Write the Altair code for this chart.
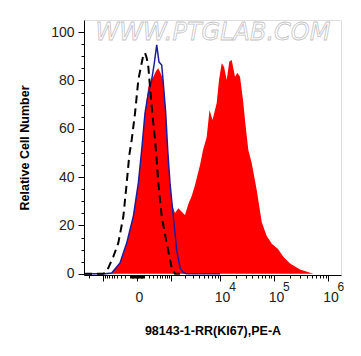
import altair as alt
import pandas as pd

# ---- data (x in PE-A units, y in relative cell number) ----
red_x = [-2600, -889, -593, -443, -326, -243, -169, -107, -53, -13, 18, 42, 68, 98, 125,
         190, 239, 308, 382, 453, 527, 632, 733, 825, 940, 1051, 1235, 1466, 1739, 2046,
         2398, 2816, 3283, 4128, 4726, 5577, 6316, 7209, 8668, 9582, 10776, 11906, 13382,
         14969, 16598, 19124, 21108, 23690, 26929, 29958, 33757, 39012, 48240, 59650,
         73740, 92240, 118990, 148880, 197550, 301450, 528900, 1070000]
red_y = [0, 0, 0.3, 2.5, 4.5, 8.6, 12.7, 18.2, 23.6, 31.2, 37.6, 44.4, 51.2, 59.5, 66.5,
         77.4, 79.2, 81.5, 83.9, 85.0, 83.1, 80.2, 66.4, 51.2, 37.6, 28.5, 25.2, 27.1, 25.7,
         24.3, 28.9, 32.2, 36.7, 45.0, 51.2, 56.6, 67.8, 63.6, 70.7, 80.2, 87.1, 85.7, 80.2,
         87.8, 88.5, 81.5, 83.2, 81.5, 71.9, 61.6, 51.2, 45.8, 34.7, 21.4, 15.6, 12.3, 10.3,
         7.1, 4.3, 1.8, 0, 0]

blue_x = [-2600, -1171, -889, -593, -443, -326, -243, -169, -107, -53, -13, 18, 42, 68, 98,
          125, 184, 227, 267, 334, 403, 476, 571, 632, 733, 825, 940, 1128, 1349, 1598, 1883,
          2221, 4128, 10000]
blue_y = [0, 0, 0, 0.3, 2.5, 4.5, 8.6, 12.7, 18.2, 23.6, 31.2, 37.6, 44.4, 51.2, 59.5,
          66.5, 74.0, 77.4, 80.2, 87.1, 94.7, 87.6, 86.4, 78.8, 66.5, 51.2, 37.6, 23.6, 9.8,
          2.4, 0.5, 0, 0, 0]

dash_x = [-2600, -995, -806, -661, -534, -374, -243, -169, -119, -78, -27, 18, 57, 95, 125,
          157, 190, 227, 282, 354, 403, 453, 571, 778, 1034, 1235, 1598]
dash_y = [0, 0, 0.9, 4.0, 7.1, 12.7, 23.6, 37.6, 49.2, 55.4, 66.5, 80.2, 85.8, 90.5, 91.4,
          89.3, 85.7, 77.4, 66.5, 55.4, 47.1, 37.6, 23.6, 12.7, 2.4, 0, 0]

# axis ticks / labels
x_major = [-1000, 0, 1000, 10000, 100000, 1000000]
x_minor = [-2000, -900, -800, -700, -600, -500, -400, -300, -200, -100,
           -90, -80, -70, -60, -50, -40, -30, -20, -10,
           10, 20, 30, 40, 50, 60, 70, 80, 90,
           100, 200, 300, 400, 500, 600, 700, 800, 900,
           2000, 3000, 4000, 5000, 6000, 7000, 8000, 9000,
           20000, 30000, 40000, 50000, 60000, 70000, 80000, 90000,
           200000, 300000, 400000, 500000, 600000, 700000, 800000, 900000]
x_label_values = [0, 10000, 100000, 1000000]
x_label_bases = ["0", "10", "10", "10"]
x_label_exps = ["", "4", "5", "6"]
y_ticks = list(range(0, 101, 5))

watermark_text = ["WWW.PTGLAB.COM"]
watermark_x = [7370]
watermark_y = [99.6]

x_title = "98143-1-RR(KI67),PE-A"
y_title = "Relative Cell Number"

# ---- chart ----
xscale = alt.Scale(type="symlog", constant=311, domain=[-2600, 1700000], nice=False, zero=False)
yscale = alt.Scale(domain=[-0.5, 105], nice=False, zero=False)


def expr_for(texts):
    return " : ".join(
        f"abs(datum.value - {v}) < 0.5 ? '{t}'" for v, t in zip(x_label_values, texts)
    ) + " : ''"


major_test = " || ".join(f"abs(datum.value - {v}) < 0.5" for v in x_major)

x_axis = alt.Axis(
    orient="bottom",
    values=sorted(x_major + x_minor),
    labelExpr=expr_for(x_label_bases),
    tickSize={"condition": {"test": major_test, "value": 6}, "value": 3},
    tickColor="black", domainColor="black", grid=False,
    labelFont="Liberation Sans", labelFontSize=14, labelColor="#222222",
    labelPadding=9, labelOffset=2, labelOverlap=False, labelFlush=False, labelBound=False,
    title=x_title, titleFont="Liberation Sans", titleFontSize=12.5, titleFontWeight="bold",
    titleColor="black", titlePadding=20,
)
x_exp_axis = alt.Axis(
    orient="bottom",
    values=x_label_values,
    labelExpr=expr_for(x_label_exps),
    ticks=False, tickSize=0, domain=False, grid=False, title=None,
    labelFont="Liberation Sans", labelFontSize=12, labelColor="#222222",
    labelPadding=6, labelOffset=12, labelOverlap=False, labelFlush=False,
    labelBound=False,
)
y_axis = alt.Axis(
    values=y_ticks,
    labelExpr="datum.value % 20 == 0 ? datum.label : ''",
    tickSize={"condition": {"test": "datum.value % 20 == 0", "value": 6}, "value": 3},
    tickColor="black", domainColor="black", grid=False,
    labelFont="Liberation Sans", labelFontSize=14, labelColor="#222222",
    labelPadding=4, labelOverlap=False, labelFlush=False,
    title=y_title, titleFont="Liberation Sans", titleFontSize=12.5, titleFontWeight="bold",
    titleColor="black", titlePadding=19,
)

X = alt.X("x:Q", scale=xscale, axis=x_axis)
X2 = alt.X("x:Q", scale=xscale, axis=x_exp_axis)
Y = alt.Y("y:Q", scale=yscale, axis=y_axis)

red_df = pd.DataFrame({"x": red_x, "y": red_y})
blue_df = pd.DataFrame({"x": blue_x, "y": blue_y})
dash_df = pd.DataFrame({"x": dash_x, "y": dash_y})
wm_df = pd.DataFrame({"x": watermark_x, "y": watermark_y, "t": watermark_text})

red = alt.Chart(red_df).mark_area(color="#ff0000", opacity=1).encode(x=X, y=Y)
blue = alt.Chart(blue_df).mark_line(color="#1c1ca0", strokeWidth=1.5).encode(x=X, y=Y)
dash = alt.Chart(dash_df).mark_line(color="black", strokeWidth=2, strokeDash=[8, 5]).encode(x=X2, y=Y)
wm = alt.Chart(wm_df).mark_text(
    font="DejaVu Sans", fontSize=24, fontStyle="italic", fill="#ffffff",
    stroke="#c4c4c4", strokeWidth=0.8, align="center", baseline="middle",
).encode(x=X, y=Y, text="t:N")

chart = alt.layer(alt.layer(red, wm, blue), dash).resolve_axis(x="independent").properties(
    width=257, height=255,
    autosize=alt.AutoSizeParams(type="none"),
    padding={"left": 76, "top": 12, "right": 12, "bottom": 70},
).configure_view(stroke="black", strokeWidth=1).configure(background="white")

chart.save("out.html", embed_options={"renderer": "svg", "actions": False})
